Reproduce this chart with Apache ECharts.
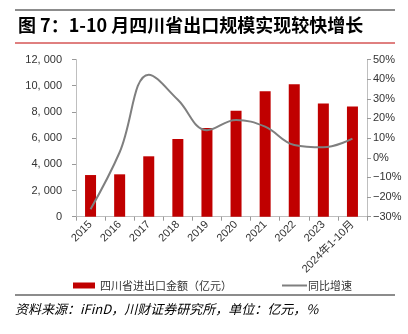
<!DOCTYPE html>
<html><head><meta charset="utf-8">
<script src="https://cdn.jsdelivr.net/npm/echarts@6/dist/echarts.min.js"></script>
<style>html,body{margin:0;padding:0;background:#fff}#c{width:408px;height:334px}</style>
</head><body><div id="c"></div>
<script>
const categories = ['2015','2016','2017','2018','2019','2020','2021','2022','2023','2024年1-10月'];
const exportValues = [3180, 3235, 4610, 5930, 6770, 8090, 9570, 10120, 8650, 8420];
const growthRates = [-26.2, 2.8, 42.3, 29.5, 14, 19.2, 15.8, 6.5, 5.3, 9.7];
const leftTicks = {min: 0, max: 12000, interval: 2000};
const rightTicks = {min: -30, max: 50, interval: 10};
const titleText = '图 7：1-10 月四川省出口规模实现较快增长';
const sourceText = '资料来源：iFinD，川财证券研究所，单位：亿元，%';
const barName = '四川省进出口金额（亿元）';
const lineName = '同比增速';

const chart = echarts.init(document.getElementById('c'), null, {renderer: 'canvas'});
const font = 'Arial, "Liberation Sans", "Noto Sans CJK SC", sans-serif';
const axisCol = '#bfbfbf';
chart.setOption({
  animation: false,
  textStyle: {fontFamily: font},
  grid: {left: 76, right: 41, top: 59.5, bottom: 117.3, containLabel: false},
  graphic: [
    {type: 'line', shape: {x1: 15, y1: 10, x2: 395, y2: 10}, style: {stroke: '#8c8c8c', lineWidth: 2}},
    {type: 'text', left: 18, top: 16, style: {text: titleText, font: 'bold 18px "Noto Sans CJK SC", sans-serif', fill: '#000'}},
    {type: 'line', shape: {x1: 15, y1: 43, x2: 395, y2: 43}, style: {stroke: '#c00000', lineWidth: 1}},
    {type: 'line', shape: {x1: 15, y1: 295, x2: 395, y2: 295}, style: {stroke: '#8c8c8c', lineWidth: 2}},
    {type: 'text', left: 15, top: 303, style: {text: sourceText, font: 'italic 13px "Noto Sans CJK SC", sans-serif', fill: '#000'}}
  ],
  legend: [
    {data: [barName], left: 68, top: 275, itemWidth: 22, itemHeight: 6, icon: 'rect',
     textStyle: {fontSize: 11, color: '#333', fontFamily: '"Noto Sans CJK SC", sans-serif'}},
    {data: [{name: lineName, icon: 'rect', itemStyle: {color: '#7f7f7f'}}], left: 277, top: 275, itemWidth: 25, itemHeight: 2,
     textStyle: {fontSize: 11, color: '#333', fontFamily: '"Noto Sans CJK SC", sans-serif', padding: [0,0,0,-4]}}
  ],
  xAxis: {
    type: 'category', data: categories, boundaryGap: true,
    axisLine: {lineStyle: {color: axisCol}},
    axisTick: {show: true, length: 4, lineStyle: {color: '#999'}},
    axisLabel: {rotate: 45, fontSize: 11, color: '#333', margin: 6, interval: 0}
  },
  yAxis: [
    {type: 'value', min: leftTicks.min, max: leftTicks.max, interval: leftTicks.interval,
     splitLine: {show: false},
     axisLine: {show: true, lineStyle: {color: axisCol}},
     axisTick: {show: true, length: 4, lineStyle: {color: '#999'}},
     axisLabel: {fontSize: 11, color: '#333', margin: 14,
       formatter: v => v >= 1000 ? Math.floor(v/1000) + ', ' + String(v%1000).padStart(3,'0') : String(v)}},
    {type: 'value', min: rightTicks.min, max: rightTicks.max, interval: rightTicks.interval,
     splitLine: {show: false},
     axisLine: {show: true, lineStyle: {color: axisCol}},
     axisTick: {show: true, length: 4, lineStyle: {color: '#999'}},
     axisLabel: {fontSize: 11, color: '#333', margin: 6, formatter: v => (v < 0 ? '\u2212' + (-v) : v) + '%'}}
  ],
  series: [
    {name: barName, type: 'bar', data: exportValues, barWidth: 11, yAxisIndex: 0,
     itemStyle: {color: '#c00000'}},
    {name: lineName, type: 'line', data: growthRates, yAxisIndex: 1, smooth: 0.4,
     symbol: 'none', lineStyle: {color: '#7f7f7f', width: 2}, itemStyle: {color: '#7f7f7f'}}
  ]
});
</script></body></html>
